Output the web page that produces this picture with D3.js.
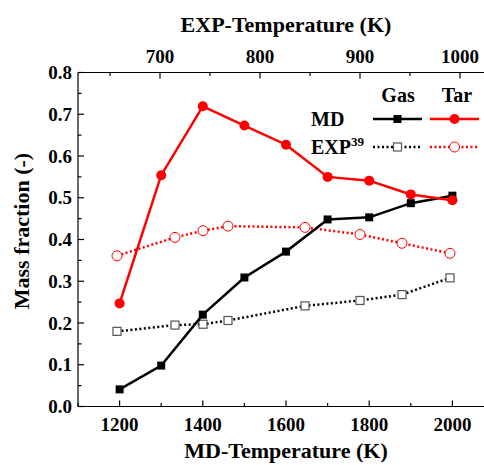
<!DOCTYPE html>
<html><head><meta charset="utf-8">
<script src="https://cdn.jsdelivr.net/npm/d3@7"></script>
<style>body{margin:0;background:#fff}svg{display:block}</style>
</head><body><svg id="c" width="484" height="465"></svg>
<script>
const mdTemp = [1200,1300,1400,1500,1600,1700,1800,1900,2000];
const mdGas  = [0.041,0.098,0.220,0.309,0.371,0.448,0.453,0.487,0.505];
const mdTar  = [0.247,0.554,0.719,0.673,0.627,0.550,0.541,0.508,0.494];
const expTemp = [657,715,743,768,845,900,942,990];
const expGas  = [0.180,0.195,0.197,0.206,0.241,0.254,0.268,0.308];
const expTar  = [0.361,0.405,0.421,0.432,0.429,0.412,0.391,0.367];
const bottomTicks = [1200,1400,1600,1800,2000];
const topTicks = [700,800,900,1000];
const yTicks = [0,0.1,0.2,0.3,0.4,0.5,0.6,0.7,0.8];

const FONT = "Liberation Serif";
const svg = d3.select("#c");
const L=78,R=494,T=72.5,B=406.5;
const x = d3.scaleLinear().domain([1100,2100]).range([L,R]);
const xt = d3.scaleLinear().domain([618,1034]).range([L,R]);
const y = d3.scaleLinear().domain([0,0.8]).range([B,T]);
const fs = 19;
function txt(g){ return g.append("text").attr("font-family",FONT).attr("font-weight","bold").attr("fill","#000"); }

const ax = svg.append("g").attr("stroke","#000").attr("stroke-width",1.2);
ax.append("line").attr("x1",L).attr("x2",R).attr("y1",B).attr("y2",B);
ax.append("line").attr("x1",L).attr("x2",R).attr("y1",T).attr("y2",T);
ax.append("line").attr("x1",L).attr("x2",L).attr("y1",T).attr("y2",B);
d3.range(1100,2101,100).forEach(v=>{const maj=bottomTicks.includes(v);
  ax.append("line").attr("x1",x(v)).attr("x2",x(v)).attr("y1",B).attr("y2",B-(maj?6:3.5));});
d3.range(650,1031,50).forEach(v=>{const maj=topTicks.includes(v);
  ax.append("line").attr("x1",xt(v)).attr("x2",xt(v)).attr("y1",T).attr("y2",T+(maj?6:3.5));});
d3.range(0,0.801,0.05).forEach(v=>{const maj=Math.abs(Math.round(v*10)-v*10)<1e-6;
  ax.append("line").attr("x1",L).attr("x2",L+(maj?6:3.5)).attr("y1",y(v)).attr("y2",y(v));});

const gb=svg.append("g");
bottomTicks.forEach(d=>txt(gb).attr("x",x(d)).attr("y",B+24.5).attr("text-anchor","middle").attr("font-size",fs).text(d));
topTicks.forEach(d=>txt(gb).attr("x",xt(d)).attr("y",T-10).attr("text-anchor","middle").attr("font-size",fs).text(d));
yTicks.forEach(d=>txt(gb).attr("x",L-6).attr("y",y(d)+6.5).attr("text-anchor","end").attr("font-size",fs).text(d.toFixed(1)));

txt(svg).attr("x",286).attr("y",458).attr("text-anchor","middle").attr("font-size",22).text("MD-Temperature (K)");
txt(svg).attr("x",286).attr("y",32).attr("text-anchor","middle").attr("font-size",22).text("EXP-Temperature (K)");
txt(svg).attr("transform","translate(29,231) rotate(-90)").attr("text-anchor","middle").attr("font-size",22).text("Mass fraction (-)");

function series(xs,sc,ys,color,dotted){
  const line=d3.line().x((d,i)=>sc(xs[i])).y(d=>y(d));
  svg.append("path").datum(ys).attr("d",line).attr("fill","none").attr("stroke",color)
    .attr("stroke-width",2.5).attr("stroke-dasharray",dotted?"2,2.5":null);
}
function squares(xs,sc,ys,filled){
  svg.append("g").selectAll("rect").data(ys).join("rect")
    .attr("x",(d,i)=>sc(xs[i])-4).attr("y",d=>y(d)-4).attr("width",8).attr("height",8)
    .attr("fill",filled?"#000":"#fff").attr("stroke",filled?"#000":"#555").attr("stroke-width",filled?0:1.2);
}
function circles(xs,sc,ys,filled){
  svg.append("g").selectAll("circle").data(ys).join("circle")
    .attr("cx",(d,i)=>sc(xs[i])).attr("cy",d=>y(d)).attr("r",5)
    .attr("fill",filled?"red":"#fff").attr("stroke","red").attr("stroke-width",filled?0:1);
}
series(expTemp,xt,expGas,"#000",true);
series(expTemp,xt,expTar,"red",true);
squares(expTemp,xt,expGas,false);
circles(expTemp,xt,expTar,false);
series(mdTemp,x,mdGas,"#000",false);
series(mdTemp,x,mdTar,"red",false);
squares(mdTemp,x,mdGas,true);
circles(mdTemp,x,mdTar,true);

const lg=svg.append("g");
txt(lg).attr("x",398).attr("y",101.5).attr("text-anchor","middle").attr("font-size",20).text("Gas");
txt(lg).attr("x",457).attr("y",101.5).attr("text-anchor","middle").attr("font-size",20).text("Tar");
txt(lg).attr("x",311).attr("y",126).attr("font-size",20).text("MD");
const e=txt(lg).attr("x",311).attr("y",154).attr("font-size",20);
e.append("tspan").text("EXP");
e.append("tspan").attr("font-size",13).attr("dy",-8).text("39");
function legLine(x1,x2,yy,color,dotted){
  lg.append("line").attr("x1",x1).attr("x2",x2).attr("y1",yy).attr("y2",yy).attr("stroke",color)
    .attr("stroke-width",2.5).attr("stroke-dasharray",dotted?"2,2.5":null);
}
legLine(373,422,119,"#000",false);
legLine(430,479,119,"red",false);
legLine(373,422,147,"#000",true);
legLine(430,479,147,"red",true);
lg.append("rect").attr("x",393.5).attr("y",115).attr("width",8).attr("height",8).attr("fill","#000");
lg.append("circle").attr("cx",454.5).attr("cy",119).attr("r",5).attr("fill","red");
lg.append("rect").attr("x",393.5).attr("y",143).attr("width",8).attr("height",8).attr("fill","#fff").attr("stroke","#555").attr("stroke-width",1.2);
lg.append("circle").attr("cx",454.5).attr("cy",147).attr("r",5).attr("fill","#fff").attr("stroke","red").attr("stroke-width",1);
</script></body></html>
